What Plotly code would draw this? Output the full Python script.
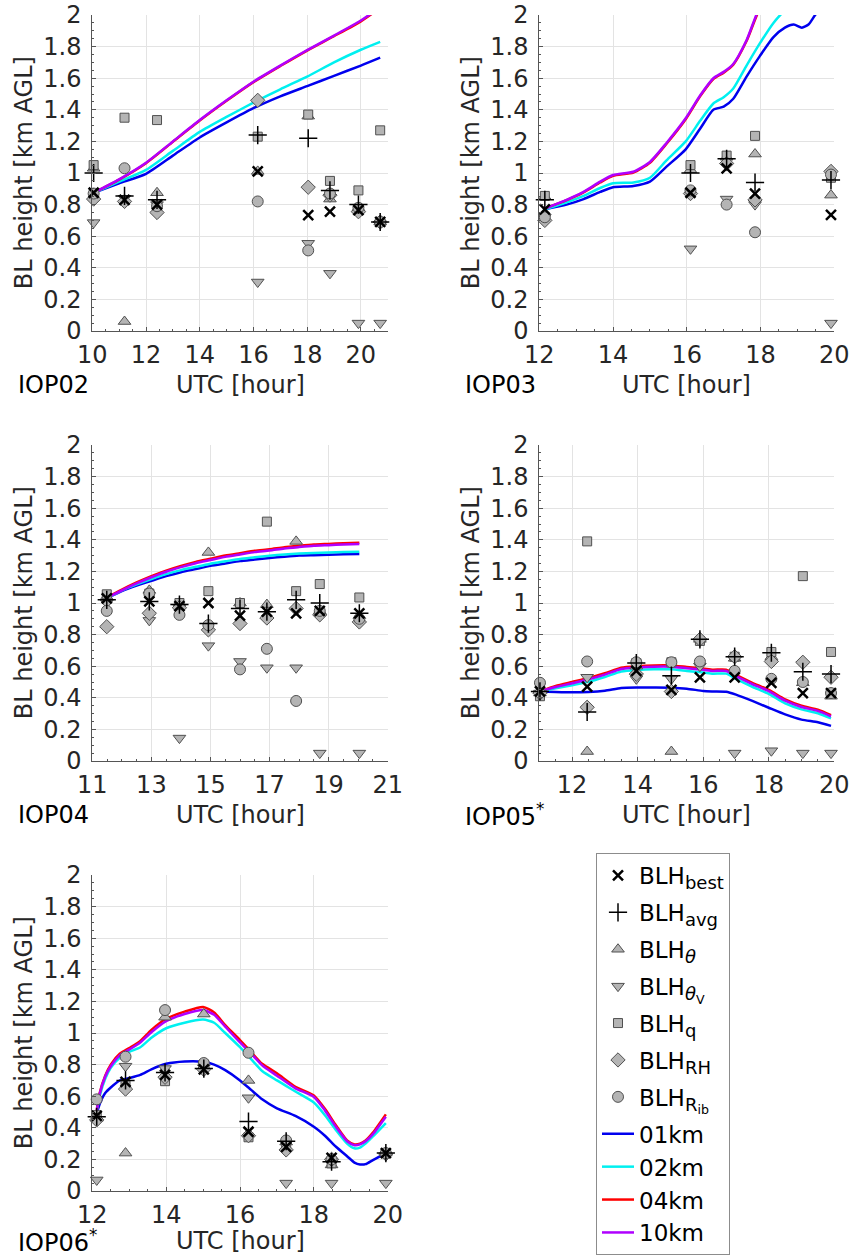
import plotly.graph_objects as go

W, H = 853, 1259

# ---------------- data ----------------
# IOP02
p1_t = [10.05, 11.2, 12.41, 16.16, 18.04, 18.85, 19.91, 20.72]
p1_best = [0.875, 0.83, 0.80, 1.01, 0.734, 0.755, 0.765, 0.69]
p1_avg = [1.0, 0.855, 0.83, 1.24, 1.22, 0.89, 0.80, 0.69]
p1_theta = [1.03, 0.06, 0.875, 1.01, 1.36, 0.835, 0.78, 0.69]
p1_thetaV = [0.686, 0.84, 0.80, 0.31, 0.555, 0.365, 0.05, 0.05]
p1_q = [1.05, 1.35, 1.335, 1.23, 1.37, 0.95, 0.89, 1.27]
p1_RH = [0.835, 0.82, 0.75, 1.46, 0.91, 0.86, 0.755, 0.69]
p1_Rib = [0.87, 1.03, 0.79, 0.82, 0.51, 0.87, 0.78, 0.69]
p1_lt = [10.05, 11, 12, 13, 14, 15, 16, 17, 18, 19, 20, 20.72]
p1_01 = [0.875, 0.935, 0.995, 1.11, 1.225, 1.32, 1.41, 1.485, 1.55, 1.615, 1.68, 1.73]
p1_02 = [0.875, 0.945, 1.02, 1.14, 1.26, 1.355, 1.445, 1.53, 1.61, 1.70, 1.78, 1.83]
p1_04 = [0.875, 0.958, 1.062, 1.197, 1.332, 1.457, 1.575, 1.677, 1.775, 1.866, 1.96, 2.045]
p1_10 = [0.875, 0.96, 1.065, 1.2, 1.335, 1.46, 1.578, 1.68, 1.778, 1.87, 1.965, 2.05]

# IOP03
p2_t = [12.15, 16.1, 17.08, 17.85, 19.91]
p2_best = [0.77, 0.875, 1.03, 0.87, 0.735]
p2_avg = [0.83, 1.0, 1.09, 0.94, 0.955]
p2_theta = [0.85, 1.02, 1.10, 1.12, 0.86]
p2_thetaV = [0.72, 0.52, 0.835, 0.80, 0.05]
p2_q = [0.855, 1.05, 1.11, 1.235, 0.97]
p2_RH = [0.70, 0.87, 1.06, 0.83, 1.01]
p2_Rib = [0.72, 0.89, 0.80, 0.625, 0.99]
p2_lt = [12.15, 12.74, 13.2, 13.65, 14.0, 14.55, 15.0, 15.45, 15.97, 16.36, 16.72, 17.0,
         17.26, 17.62, 17.98, 18.35, 18.66, 18.9, 19.12, 19.3, 19.48, 19.9]
p2_01 = [0.77, 0.80, 0.835, 0.88, 0.91, 0.918, 0.945, 1.04, 1.15, 1.28, 1.40, 1.42,
         1.47, 1.61, 1.74, 1.86, 1.92, 1.94, 1.92, 1.94, 2.0, 2.12]
p2_02 = [0.77, 0.815, 0.855, 0.905, 0.935, 0.94, 0.97, 1.08, 1.20, 1.33, 1.44, 1.48,
         1.535, 1.68, 1.82, 1.95, 2.03, 2.08, 2.12, 2.15, 2.18, 2.25]
p2_04 = [0.775, 0.828, 0.877, 0.94, 0.982, 1.003, 1.065, 1.185, 1.34, 1.485, 1.595, 1.635,
         1.685, 1.835, 2.04, 2.15, 2.25, 2.3, 2.35, 2.4, 2.45, 2.5]
p2_10 = [0.776, 0.83, 0.88, 0.945, 0.987, 1.008, 1.07, 1.19, 1.346, 1.49, 1.60, 1.64,
         1.69, 1.84, 2.05, 2.15, 2.25, 2.3, 2.35, 2.4, 2.45, 2.5]

# IOP04
p3_t = [11.49, 12.93, 13.95, 14.93, 16.0, 16.91, 17.9, 18.7, 20.04]
p3_best = [1.03, 1.01, 0.98, 1.0, 0.92, 0.945, 0.935, 0.95, 0.935]
p3_avg = [1.02, 1.01, 0.99, 0.87, 0.965, 0.945, 1.02, 1.0, 0.935]
p3_theta = [1.04, 1.08, 1.0, 1.32, 1.0, 0.99, 1.39, 0.95, 0.92]
p3_thetaV = [1.0, 0.89, 0.145, 0.73, 0.63, 0.59, 0.59, 0.05, 0.05]
p3_q = [1.055, 1.06, 1.0, 1.075, 1.0, 1.515, 1.075, 1.12, 1.035]
p3_RH = [0.85, 0.935, 0.97, 0.83, 0.87, 0.905, 0.965, 0.925, 0.88]
p3_Rib = [0.95, 1.06, 0.925, 0.86, 0.58, 0.71, 0.38, 0.95, 0.9]
p3_lt = [11.49, 12, 12.5, 13, 13.5, 14, 14.5, 15, 15.5, 16, 16.5, 17, 17.5, 18, 18.5, 19, 19.5, 20.04]
p3_01 = [1.03, 1.075, 1.11, 1.14, 1.17, 1.195, 1.215, 1.235, 1.25, 1.265, 1.275, 1.285, 1.293, 1.30, 1.303, 1.306, 1.308, 1.31]
p3_02 = [1.03, 1.08, 1.118, 1.152, 1.183, 1.208, 1.229, 1.249, 1.264, 1.279, 1.289, 1.299, 1.307, 1.313, 1.317, 1.32, 1.323, 1.325]
p3_04 = [1.035, 1.085, 1.13, 1.17, 1.205, 1.235, 1.26, 1.28, 1.30, 1.315, 1.33, 1.34, 1.353, 1.362, 1.37, 1.374, 1.378, 1.382]
p3_10 = [1.033, 1.08, 1.124, 1.163, 1.198, 1.227, 1.252, 1.272, 1.292, 1.307, 1.322, 1.332, 1.345, 1.354, 1.362, 1.366, 1.37, 1.374]

# IOP05*
p4_t = [11.02, 12.46, 13.96, 15.03, 15.9, 16.96, 18.08, 19.04, 19.9]
p4_best = [0.44, 0.47, 0.57, 0.45, 0.53, 0.53, 0.495, 0.43, 0.43]
p4_avg = [0.44, 0.31, 0.62, 0.54, 0.77, 0.66, 0.685, 0.565, 0.55]
p4_theta = [0.43, 0.06, 0.60, 0.06, 0.77, 0.65, 0.66, 0.495, 0.41]
p4_thetaV = [0.43, 0.53, 0.52, 0.52, 0.60, 0.05, 0.065, 0.05, 0.05]
p4_q = [0.41, 1.39, 0.62, 0.625, 0.76, 0.66, 0.69, 1.17, 0.69]
p4_RH = [0.43, 0.34, 0.55, 0.44, 0.77, 0.66, 0.63, 0.625, 0.53]
p4_Rib = [0.495, 0.63, 0.625, 0.625, 0.63, 0.57, 0.52, 0.5, 0.43]
p4_lt = [11.02, 11.5, 12, 12.5, 13, 13.5, 14, 14.5, 15, 15.5, 16, 16.3, 16.7, 17, 17.5, 18, 18.5, 19, 19.5, 19.9]
p4_01 = [0.44, 0.437, 0.435, 0.437, 0.445, 0.462, 0.465, 0.465, 0.464, 0.458, 0.443, 0.44, 0.438, 0.42, 0.38, 0.337, 0.295, 0.262, 0.245, 0.222]
p4_02 = [0.44, 0.46, 0.48, 0.502, 0.532, 0.566, 0.576, 0.58, 0.58, 0.57, 0.56, 0.553, 0.553, 0.52, 0.47, 0.425, 0.365, 0.327, 0.302, 0.27]
p4_04 = [0.44, 0.475, 0.50, 0.525, 0.555, 0.59, 0.60, 0.605, 0.605, 0.595, 0.585, 0.578, 0.578, 0.545, 0.495, 0.45, 0.39, 0.35, 0.325, 0.29]
p4_10 = [0.44, 0.468, 0.492, 0.517, 0.547, 0.582, 0.592, 0.597, 0.597, 0.587, 0.577, 0.57, 0.57, 0.537, 0.487, 0.442, 0.382, 0.342, 0.317, 0.283]

# IOP06*
p5_t = [12.12, 12.9, 13.97, 15.02, 16.23, 17.25, 18.48, 19.95]
p5_best = [0.475, 0.69, 0.735, 0.77, 0.375, 0.28, 0.21, 0.24]
p5_avg = [0.47, 0.70, 0.75, 0.775, 0.44, 0.315, 0.185, 0.24]
p5_theta = [0.46, 0.24, 1.10, 1.12, 0.70, 0.31, 0.165, 0.24]
p5_thetaV = [0.07, 0.79, 0.775, 0.78, 0.59, 0.05, 0.05, 0.05]
p5_q = [0.48, 0.67, 0.695, 0.80, 0.34, 0.30, 0.175, 0.24]
p5_RH = [0.45, 0.645, 0.72, 0.77, 0.35, 0.26, 0.20, 0.235]
p5_Rib = [0.58, 0.85, 1.145, 0.81, 0.875, 0.32, 0.20, 0.24]
p5_lt = [12.1, 12.2, 12.35, 12.5, 12.75, 13.0, 13.3, 13.6, 14.0, 14.5, 15.0, 15.3, 15.6, 16.0,
         16.3, 16.6, 17.0, 17.5, 18.0, 18.3, 18.6, 18.9, 19.1, 19.25, 19.4, 19.6, 19.95]
p5_01 = [0.47, 0.55, 0.62, 0.655, 0.70, 0.715, 0.735, 0.77, 0.805, 0.82, 0.818, 0.80, 0.765, 0.70,
         0.64, 0.58, 0.523, 0.475, 0.407, 0.35, 0.28, 0.22, 0.18, 0.168, 0.17, 0.196, 0.24]
p5_02 = [0.48, 0.60, 0.71, 0.78, 0.845, 0.88, 0.91, 0.97, 1.03, 1.065, 1.085, 1.065, 1.0, 0.91,
         0.835, 0.76, 0.70, 0.63, 0.56, 0.48, 0.385, 0.30, 0.27, 0.275, 0.30, 0.345, 0.43]
p5_04 = [0.48, 0.62, 0.73, 0.80, 0.87, 0.905, 0.95, 1.02, 1.09, 1.135, 1.165, 1.13, 1.05, 0.955,
         0.88, 0.805, 0.745, 0.66, 0.605, 0.52, 0.415, 0.32, 0.295, 0.30, 0.32, 0.37, 0.485]
p5_10 = [0.48, 0.615, 0.725, 0.79, 0.86, 0.895, 0.94, 1.005, 1.075, 1.12, 1.145, 1.115, 1.04, 0.94,
         0.87, 0.795, 0.73, 0.65, 0.595, 0.51, 0.405, 0.315, 0.29, 0.295, 0.315, 0.36, 0.47]

panels = [
    dict(name="IOP02", t=p1_t, best=p1_best, avg=p1_avg, theta=p1_theta, thetaV=p1_thetaV, q=p1_q, RH=p1_RH, Rib=p1_Rib,
         lt=p1_lt, l01=p1_01, l02=p1_02, l04=p1_04, l10=p1_10, xr=[10, 21], x0=10),
    dict(name="IOP03", t=p2_t, best=p2_best, avg=p2_avg, theta=p2_theta, thetaV=p2_thetaV, q=p2_q, RH=p2_RH, Rib=p2_Rib,
         lt=p2_lt, l01=p2_01, l02=p2_02, l04=p2_04, l10=p2_10, xr=[12, 20], x0=12),
    dict(name="IOP04", t=p3_t, best=p3_best, avg=p3_avg, theta=p3_theta, thetaV=p3_thetaV, q=p3_q, RH=p3_RH, Rib=p3_Rib,
         lt=p3_lt, l01=p3_01, l02=p3_02, l04=p3_04, l10=p3_10, xr=[11, 21], x0=11),
    dict(name="IOP05<sup>*</sup>", t=p4_t, best=p4_best, avg=p4_avg, theta=p4_theta, thetaV=p4_thetaV, q=p4_q, RH=p4_RH, Rib=p4_Rib,
         lt=p4_lt, l01=p4_01, l02=p4_02, l04=p4_04, l10=p4_10, xr=[11, 20], x0=12),
    dict(name="IOP06<sup>*</sup>", t=p5_t, best=p5_best, avg=p5_avg, theta=p5_theta, thetaV=p5_thetaV, q=p5_q, RH=p5_RH, Rib=p5_Rib,
         lt=p5_lt, l01=p5_01, l02=p5_02, l04=p5_04, l10=p5_10, xr=[12, 20], x0=12),
]

# ---------------- layout geometry (pixels) ----------------
col_px = [(92.3, 387.7), (539.3, 834.3)]
row_px = [(15, 331), (445, 761), (875, 1191)]
label_off = [54, 54, 50]   # offset of "UTC [hour]" / IOP labels below each row's axis
pos = [(0, 0), (0, 1), (1, 0), (1, 1), (2, 0)]

FONT = "DejaVu Sans"
TXT = "#262626"
FS = 24
GRAY_FILL = "#b4b4b4"
GRAY_LINE = "#505050"


def sub(s):
    return "<sub><span style='font-size:18px'>" + s + "</span></sub>"


line_styles = [("l01", "01km", "#0000ee"), ("l02", "02km", "#00f0f0"),
               ("l04", "04km", "#ff0000"), ("l10", "10km", "#b000ff")]
marker_styles = [
    ("theta", "BLH" + sub("<i>θ</i>"), dict(symbol="triangle-up", size=11, color=GRAY_FILL, line=dict(color=GRAY_LINE, width=1)), 3),
    ("thetaV", "BLH<sub><span style='font-size:18px'><i>θ</i><sub>V</sub></span></sub>", dict(symbol="triangle-down", size=11, color=GRAY_FILL, line=dict(color=GRAY_LINE, width=1)), 4),
    ("q", "BLH" + sub("q"), dict(symbol="square", size=9, color=GRAY_FILL, line=dict(color=GRAY_LINE, width=1)), 5),
    ("RH", "BLH" + sub("RH"), dict(symbol="diamond", size=11, color=GRAY_FILL, line=dict(color=GRAY_LINE, width=1)), 6),
    ("Rib", "BLH<sub><span style='font-size:18px'>R<sub>ib</sub></span></sub>", dict(symbol="circle", size=11, color=GRAY_FILL, line=dict(color=GRAY_LINE, width=1)), 7),
    ("avg", "BLH" + sub("avg"), dict(symbol="cross-thin", size=13, color="black", line=dict(color="black", width=1.5)), 2),
    ("best", "BLH" + sub("best"), dict(symbol="x-thin", size=10, color="black", line=dict(color="black", width=2.5)), 1),
]

fig = go.Figure()
layout = dict(width=W, height=H, margin=dict(l=0, r=0, t=0, b=0, autoexpand=False),
              paper_bgcolor="white", plot_bgcolor="white",
              font=dict(family=FONT, color=TXT, size=FS), showlegend=True)
annotations = []

for i, p in enumerate(panels):
    r, c = pos[i]
    xs = "" if i == 0 else str(i + 1)
    xa, ya = "x" + xs, "y" + xs
    x0p, x1p = col_px[c]
    y0p, y1p = row_px[r]
    common = dict(showgrid=True, gridcolor="#e3e3e3", gridwidth=1, zeroline=False,
                  showline=True, linecolor="#555555", linewidth=1, mirror=False,
                  ticks="inside", ticklen=4, tickcolor="#555555", tickwidth=1,
                  automargin=False,
                  tickfont=dict(family=FONT, size=FS, color=TXT))
    layout["xaxis" + xs] = dict(domain=[x0p / W, x1p / W], anchor=ya, range=p["xr"],
                                tick0=p["x0"], dtick=2, ticklabelstandoff=2,
                                minor=dict(dtick=0.5, tick0=p["x0"], ticks="inside", ticklen=2,
                                           tickcolor="#555555", showgrid=False),
                                **common)
    layout["yaxis" + xs] = dict(domain=[1 - y1p / H, 1 - y0p / H], anchor=xa, range=[0, 2],
                                tick0=0, dtick=0.2, ticklabelstandoff=5,
                                minor=dict(dtick=0.05, tick0=0, ticks="inside", ticklen=2,
                                           tickcolor="#555555", showgrid=False),
                                **common)
    # lines
    for key, lab, col in line_styles:
        fig.add_trace(go.Scatter(x=p["lt"], y=p[key], mode="lines", name=lab,
                                 line=dict(color=col, width=2.5, shape="spline", smoothing=0.6),
                                 xaxis=xa, yaxis=ya, showlegend=(i == 0), legendgroup="models",
                                 legendrank=8 + [s[0] for s in line_styles].index(key)))
    # markers
    for key, lab, mk, rank in marker_styles:
        fig.add_trace(go.Scatter(x=p["t"], y=p[key], mode="markers", name=lab, marker=mk,
                                 xaxis=xa, yaxis=ya, showlegend=(i == 0), legendgroup=key,
                                 legendrank=rank, cliponaxis=False))
    # axis titles / labels
    cx = (x0p + x1p) / 2
    cy = (y0p + y1p) / 2
    off = label_off[r]
    annotations.append(dict(text="BL height [km AGL]", textangle=-90, x=(x0p - 68) / W, y=1 - cy / H,
                            xref="paper", yref="paper", showarrow=False, xanchor="center", yanchor="middle",
                            font=dict(family=FONT, size=FS, color=TXT)))
    annotations.append(dict(text="UTC [hour]", x=cx / W, y=1 - (y1p + off) / H,
                            xref="paper", yref="paper", showarrow=False, xanchor="center", yanchor="middle",
                            font=dict(family=FONT, size=FS, color=TXT)))
    annotations.append(dict(text=p["name"], x=(x0p - 76) / W, y=1 - (y1p + off) / H,
                            xref="paper", yref="paper", showarrow=False, xanchor="left", yanchor="middle",
                            font=dict(family=FONT, size=FS, color="black")))

layout["annotations"] = annotations
layout["legend"] = dict(x=596 / W, y=(H - 1255) / H, xanchor="left", yanchor="bottom",
                        bgcolor="white", bordercolor="#8c8c8c", borderwidth=1,
                        font=dict(family=FONT, size=23, color="black"),
                        itemsizing="trace", itemwidth=32, tracegroupgap=4,
                        traceorder="grouped")
fig.update_layout(**layout)
fig.write_html("out.html")
